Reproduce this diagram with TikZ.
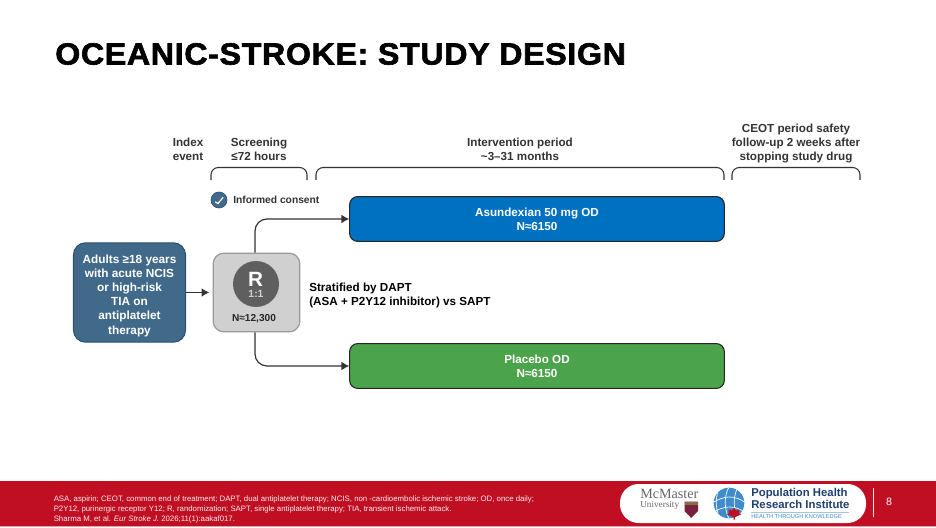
\documentclass[tikz,border=0pt]{standalone}
\usepackage{fontspec}
\setmainfont{Liberation Sans}
\newfontfamily\serifname{Liberation Serif}
\newfontfamily\titlefont[FakeStretch=1.05,FakeBold=2,LetterSpace=2.1]{Liberation Sans Bold}
\usetikzlibrary{arrows.meta,calc}
\definecolor{popblue}{HTML}{41698A}
\definecolor{popedge}{HTML}{2C5270}
\definecolor{asublue}{HTML}{0070C0}
\definecolor{plagreen}{HTML}{4BA34B}
\definecolor{rgrey}{HTML}{D0D0D0}
\definecolor{redge}{HTML}{9A9A9A}
\definecolor{rdark}{HTML}{5F5F5F}
\definecolor{band}{HTML}{C00F23}
\definecolor{ink}{HTML}{333333}
\definecolor{phrinavy}{HTML}{1D3F72}
\definecolor{globeblue}{HTML}{3F8CCB}
\definecolor{maroon}{HTML}{7A1F3D}
\tikzset{
  x=0.75pt,y=-0.75pt,
  lab/.style={font=\fontsize{8.75pt}{10.5pt}\selectfont\bfseries,text=ink,align=center,inner sep=0pt},
  armbox/.style={draw=black!85,line width=0.8pt,rounded corners=6pt,text=white,align=center,inner sep=0pt,
     font=\fontsize{8.75pt}{10.5pt}\selectfont\bfseries,minimum width=281pt,minimum height=33.6pt},
  flow/.style={draw=ink,line width=0.9pt,-{Latex[length=5.8pt,width=6.6pt]},rounded corners=9pt},
  brace/.style={draw=ink,line width=0.8pt,rounded corners=5.5pt},
}
\begin{document}
\begin{tikzpicture}
\useasboundingbox (0,0) rectangle (936,528);
\fill[white] (0,0) rectangle (936,528);
\node[anchor=west,inner sep=0pt,font=\titlefont\fontsize{23pt}{26pt}\selectfont] (title) at (55,54) {OCEANIC-STROKE: STUDY DESIGN};

\node[lab,anchor=north] (idx) at (188,138) {Index\\event};
\node[lab,anchor=north] (scr) at (259,138) {Screening\\≤72 hours};
\node[lab,anchor=north] (int) at (520,138) {Intervention period\\\textasciitilde3–31 months};
\node[lab,anchor=north] (ceot) at (796,124) {CEOT period safety\\follow-up 2 weeks after\\stopping study drug};

\draw[brace] (211,180) -- (211,167.5) -- (307,167.5) -- (307,180);
\draw[brace] (316,180) -- (316,167.5) -- (724,167.5) -- (724,180);
\draw[brace] (732,180) -- (732,167.5) -- (860,167.5) -- (860,180);

\node[circle,fill=popblue,draw=popedge,line width=0.5pt,minimum size=12pt,inner sep=0pt] (chk) at (219,200) {};
\draw[white,line width=0.9pt,line cap=round] (215.5,202) -- (218,203.5) -- (223,197.5);
\node[lab,anchor=west,font=\fontsize{7.7pt}{9pt}\selectfont\bfseries] (cons) at (233,200) {Informed consent};

\node[draw=popedge,fill=popblue,line width=0.8pt,rounded corners=9pt,inner sep=0pt,
      minimum width=84pt,minimum height=74.5pt] (pop) at (129.5,292.5) {};
\node[text=white,align=center,inner sep=0pt,font=\fontsize{8.85pt}{10.65pt}\selectfont\bfseries] (poptext) at (129.5,295.5)
      {Adults ≥18 years\\with acute NCIS\\or high-risk\\TIA on\\antiplatelet\\therapy};

\node[draw=redge,fill=rgrey,line width=0.9pt,rounded corners=8pt,minimum width=65pt,minimum height=59pt,inner sep=0pt] (rbox) at (256.5,292.5) {};
\node[circle,fill=rdark,minimum size=34.5pt,inner sep=0pt] (rc) at (256,284) {};
\node[inner sep=0pt,text=white,font=\fontsize{15.5pt}{15.5pt}\selectfont\bfseries] (rl) at (255.5,279) {R};
\node[inner sep=0pt,text=rgrey,font=\fontsize{7.8pt}{9pt}\selectfont\bfseries] (rr) at (256,294) {1:1};
\node[inner sep=0pt,text=black!85,font=\fontsize{7.6pt}{9pt}\selectfont\bfseries] (rn) at (254,318.5) {N≈12,300};

\node[armbox,fill=asublue] (asu) at (537,219) {Asundexian 50 mg OD\\N≈6150};
\node[armbox,fill=plagreen] (pla) at (537,366) {Placebo OD\\N≈6150};

\node[anchor=west,align=left,inner sep=0pt,text=black,font=\fontsize{8.75pt}{10.5pt}\selectfont\bfseries] (strat) at (309,295.5) {Stratified by DAPT\\(ASA + P2Y12 inhibitor) vs SAPT};

\draw[flow,shorten >=2.5pt] (pop.east) -- (rbox.west);
\draw[flow] (rbox.north -| 255,0) |- (asu.west);
\draw[flow] (rbox.south -| 255,0) |- (pla.west);

% footer
\fill[band] (0,481) rectangle (936,526);
\fill[band!40] (0,526) rectangle (936,527);
\node[anchor=north west,align=left,inner sep=0pt,text=white!92!band,font=\fontsize{5.86pt}{7.5pt}\selectfont] (foot) at (53.5,495.5)
 {ASA, aspirin; CEOT, common end of treatment; DAPT, dual antiplatelet therapy; NCIS, non -cardioembolic ischemic stroke; OD, once daily;\\
  P2Y12, purinergic receptor Y12; R, randomization; SAPT, single antiplatelet therapy; TIA, transient ischemic attack.\\
  Sharma M, et al. \textit{Eur Stroke J.} 2026;11(1):aakaf017.};

\fill[white,rounded corners=14pt] (620,484) rectangle (866,523);
\node[inner sep=0pt,anchor=west,text=black!60,font=\serifname\fontsize{10.6pt}{11pt}\selectfont] (mc) at (640,494) {McMaster};
\node[inner sep=0pt,anchor=west,text=black!60,font=\serifname\fontsize{6.9pt}{8pt}\selectfont] (uni) at (640,505) {University};
\fill[maroon] (684.5,501.5) -- (698,501.5) -- (698,511) -- (691.2,518) -- (684.5,511) -- cycle;
\fill[black!60!yellow] (684.5,501.5) rectangle (698,505);

\node[circle,fill=globeblue,minimum size=23pt,inner sep=0pt] (globe) at (729,503) {};
\begin{scope}
\clip (729,503) circle (15.3);
\foreach \d in {-10,0,10}{\draw[white,line width=0.5pt] (712,503+\d) .. controls (725,495+\d) and (735,495+\d) .. (746,503+\d);}
\foreach \d in {-9,0,9}{\draw[white,line width=0.5pt] (729+\d,487) .. controls (724+\d,496) and (724+\d,508) .. (729+\d,519);}
\end{scope}
\fill[band] (734,507.5) -- (736,510.5) -- (739.5,509.5) -- (739,513) -- (741,514.5) -- (735,517) -- (735,519.5) -- (733.5,519.5) -- (733.5,517) -- (727,514.5) -- (729,513) -- (728.5,509.5) -- (732,510.5) -- cycle;

\node[inner sep=0pt,anchor=west,text=phrinavy,align=left,font=\fontsize{8.5pt}{8.8pt}\selectfont\bfseries] (phri) at (751,498.5) {Population Health\\Research Institute};
\draw[globeblue!50,line width=0.4pt] (751,512) -- (849,512);
\node[inner sep=0pt,anchor=west,text=globeblue,font=\fontsize{4.25pt}{5pt}\selectfont] (htk) at (751,517) {HEALTH THROUGH KNOWLEDGE};

\draw[white!90!band,line width=0.7pt] (873,488) -- (873,517);
\node[inner sep=0pt,text=white,font=\fontsize{8pt}{9pt}\selectfont] (pg) at (889,502) {8};
\end{tikzpicture}
\end{document}
